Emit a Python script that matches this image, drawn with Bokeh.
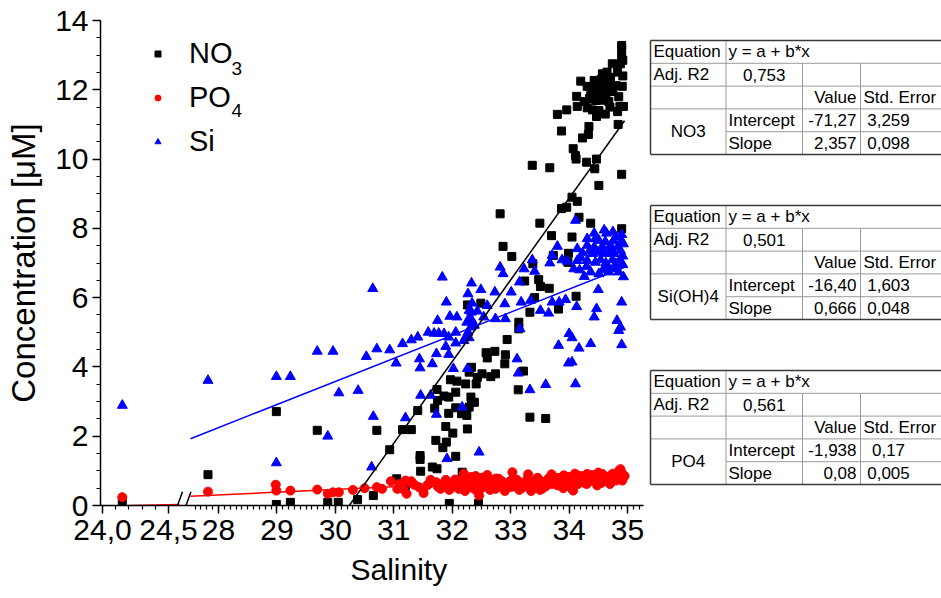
from bokeh.plotting import figure
from bokeh.models import (Range1d, FixedTicker, CustomJSTickFormatter,
                          Label, Legend, LegendItem, Title)
from bokeh.layouts import row
from bokeh.embed import file_html
from bokeh.resources import INLINE
from bokeh.core.properties import value

FONT = "Liberation Sans"

# ---------------- data ----------------
# left axis segment (24,0 - 24,5)
no3_sal_left = [24.15]
no3_conc_left = [0.09]
po4_sal_left = [24.15]
po4_conc_left = [0.24]
si_sal_left = [24.15]
si_conc_left = [2.89]

# right axis segment (27,5 - 35)
no3_sal = [27.82, 28.99, 29.69, 28.99, 29.23, 29.87, 30.05, 30.38, 31.20, 31.95, 32.45,
           32.87, 33.02, 33.38, 33.99, 33.98, 33.73, 33.24, 33.48, 33.51, 33.66, 33.41, 33.33,
           33.82, 34.12, 32.26, 32.49, 33.14, 33.14, 32.94, 32.58, 32.73, 32.60, 32.91, 32.90,
           33.22, 32.33, 32.29, 32.51, 32.43, 32.66, 32.74, 31.97, 32.08, 32.23, 32.41, 33.13,
           31.74, 32.06, 31.86, 31.94, 31.75, 32.32, 32.33, 32.29, 32.38, 32.06, 32.16, 32.25,
           31.70, 31.94, 31.41, 33.33, 33.60, 32.26, 31.89, 32.01, 31.30, 31.15, 30.71, 30.93,
           31.72, 31.90, 31.84, 31.45, 31.45, 32.06, 31.66, 31.74, 31.46, 32.17, 31.05, 30.65,
           34.90, 34.90, 34.90, 34.88, 34.74, 34.83, 34.65, 34.57, 34.71, 34.20, 34.43, 34.51,
           34.60, 34.31, 34.80, 34.91, 34.46, 34.57, 34.65, 34.74, 34.37, 34.51, 34.63, 34.13,
           34.46, 34.26, 34.68, 34.14, 34.31, 34.40, 34.51, 34.87, 34.93, 34.83, 33.96, 33.80,
           34.47, 33.87, 34.34, 34.33, 34.23, 34.84, 34.07, 34.11, 34.12, 34.47, 34.30, 33.37,
           33.67, 34.44, 34.90, 34.51, 34.05, 34.14, 33.87, 33.96, 32.82, 34.17, 33.50, 34.37,
           34.90, 33.70, 34.05,
           34.55, 34.68, 34.40, 34.75, 34.85, 34.58, 34.70, 34.35, 34.92, 34.92, 34.62]
no3_conc = [0.89, 2.71, 2.17, 0.03, 0.09, 0.09, 0.09, 0.17, 0.52, 0.06, 0.06,
            7.48, 7.19, 6.98, 7.28, 7.02, 7.22, 6.48, 6.52, 6.32, 6.27, 6.00, 5.58,
            5.67, 6.04, 5.79, 5.84, 5.29, 5.10, 4.79, 4.41, 4.45, 4.26, 4.35, 4.09,
            3.88, 3.99, 3.85, 3.80, 3.70, 3.72, 3.80, 3.63, 3.59, 3.51, 3.51, 3.34,
            3.35, 3.27, 3.16, 3.13, 3.03, 3.13, 2.98, 2.84, 2.98, 2.82, 2.65, 2.60,
            2.81, 2.66, 2.74, 2.55, 2.51, 2.21, 2.28, 2.09, 2.19, 2.19, 2.17, 1.61,
            1.88, 1.83, 1.67, 1.44, 1.33, 1.42, 1.11, 1.06, 0.99, 0.96, 0.77, 0.29,
            13.28, 13.18, 12.96, 12.75, 12.75, 12.51, 12.51, 12.46, 12.36, 12.25, 12.27, 12.17,
            12.12, 12.10, 12.12, 12.10, 12.00, 11.96, 12.03, 12.06, 11.84, 11.84, 11.84, 11.81,
            11.69, 11.66, 11.66, 11.52, 11.48, 11.42, 11.40, 11.52, 11.52, 11.37, 11.42, 11.29,
            11.23, 10.81, 10.94, 10.71, 10.61, 11.00, 10.30, 10.10, 10.00, 10.00, 9.91, 9.82,
            9.75, 9.72, 9.56, 9.24, 8.90, 8.78, 8.57, 8.61, 8.42, 8.32, 8.15, 8.15,
            7.99, 7.79, 7.75,
            12.30, 12.20, 12.05, 11.95, 11.80, 11.70, 11.50, 11.75, 12.40, 12.85, 11.30]

po4_sal = [27.82, 28.98, 28.99, 29.23, 29.69, 29.87, 29.96, 30.06,
           30.71, 30.95, 31.06, 31.22, 31.30, 31.43, 31.57, 31.63, 31.73, 31.80, 31.89, 31.96,
           32.04, 32.11, 32.19, 32.26, 32.32, 32.36, 32.46, 32.43, 32.51, 32.55, 32.64, 32.74,
           32.80, 32.90, 33.03, 32.99, 33.11, 33.20, 33.29, 33.37, 33.46, 33.54, 33.62, 33.73,
           33.80, 33.91, 33.98, 34.05, 34.14, 34.23, 34.31, 34.40, 34.48, 34.57, 34.64, 34.72,
           34.80, 34.86, 34.88, 34.84, 34.91,
           30.80, 31.17, 31.51, 34.07, 30.50, 30.30, 31.10, 31.35, 31.50, 31.60, 31.75, 31.85,
           31.95, 31.20, 32.00, 32.05, 32.10, 32.15, 32.20, 32.22, 32.28, 32.30, 32.35, 32.40,
           32.45, 32.48, 32.50, 32.55, 32.60, 32.65, 32.70, 32.75, 32.80, 32.85, 32.95, 33.00,
           33.05, 33.10, 33.15, 33.25, 33.30, 33.35, 33.40, 33.45, 33.50, 33.55, 33.60, 33.65,
           33.70, 33.75, 33.80, 33.85, 33.90, 33.95, 34.00, 34.05, 34.10, 34.15, 34.20, 34.25,
           34.30, 34.35, 34.40, 34.45, 34.50, 34.55, 34.60, 34.65, 34.70, 34.75, 34.80, 34.85,
           34.90, 34.92, 34.95, 34.88, 34.70, 34.50, 34.30, 34.10, 33.90, 33.70, 33.50, 33.30,
           32.90, 32.60, 32.40, 32.20]
po4_conc = [0.40, 0.60, 0.43, 0.43, 0.46, 0.34, 0.38, 0.38,
            0.53, 0.70, 0.48, 0.34, 0.70, 0.53, 0.58, 0.74, 0.67, 0.48, 0.74, 0.58,
            0.67, 0.48, 0.77, 0.61, 0.82, 0.51, 0.29, 0.67, 0.80, 0.55, 0.74, 0.48,
            0.77, 0.64, 0.96, 0.53, 0.74, 0.51, 0.77, 0.63, 0.80, 0.48, 0.72, 0.80,
            0.58, 0.87, 0.70, 0.48, 0.87, 0.72, 0.91, 0.77, 0.58, 0.91, 0.77, 0.87,
            0.72, 1.01, 0.82, 0.91, 0.72,
            0.48, 0.46, 0.36, 0.43, 0.50, 0.45, 0.62, 0.60, 0.45, 0.62, 0.55, 0.62,
            0.45, 0.72, 0.55, 0.75, 0.62, 0.50, 0.68, 0.42, 0.72, 0.55, 0.65, 0.45,
            0.75, 0.60, 0.50, 0.70, 0.58, 0.45, 0.68, 0.78, 0.55, 0.70, 0.60, 0.72,
            0.55, 0.62, 0.45, 0.68, 0.58, 0.42, 0.70, 0.60, 0.72, 0.65, 0.55, 0.78,
            0.62, 0.70, 0.80, 0.65, 0.75, 0.60, 0.82, 0.68, 0.76, 0.62, 0.85, 0.66,
            0.78, 0.70, 0.88, 0.72, 0.80, 0.65, 0.85, 0.70, 0.78, 0.92, 0.80, 0.88,
            0.95, 0.78, 0.85, 1.05, 0.62, 0.95, 0.62, 0.92, 0.50, 0.90, 0.45, 0.90,
            0.42, 0.88, 0.85, 0.92]

si_sal = [27.82, 28.99, 29.23, 29.69, 29.96, 30.06, 28.99, 29.87,
          30.64, 30.39, 30.53, 30.71, 30.93, 31.04, 31.15, 31.30, 31.41, 31.44, 31.45, 31.59,
          31.69, 31.77, 31.86, 31.94, 32.06, 31.75, 31.90, 31.96, 32.08, 31.89, 31.94, 31.73,
          31.66, 32.02, 32.06, 32.20, 32.23, 32.29, 32.27, 32.32, 32.25, 32.29, 32.34, 32.38,
          32.33, 32.43, 32.29, 32.34, 32.27, 32.33, 32.49, 32.60, 33.13, 33.33, 33.60, 34.11,
          33.99, 34.05, 31.46, 31.63, 31.73, 31.20, 30.65, 30.62, 31.91, 32.46, 32.17, 32.26,
          31.83,
          34.11, 34.43, 34.64, 34.90, 34.31, 34.51, 34.76, 34.90, 33.80, 34.14, 34.31, 34.43,
          34.57, 34.71, 34.83, 34.88, 34.23, 34.40, 34.48, 34.60, 34.68, 34.77, 33.71, 33.88,
          33.97, 34.14, 34.31, 34.54, 34.74, 34.87, 34.63, 34.80, 34.08, 34.18, 34.37, 34.51,
          34.68, 34.85, 34.26, 33.37, 33.41, 33.23, 33.67, 33.15, 32.82, 32.87, 34.50, 34.90,
          34.47, 34.43, 34.82, 34.88, 34.85, 34.00, 34.05, 33.82, 34.17, 34.37, 34.90, 33.83,
          33.94, 34.13, 33.71, 33.51, 33.65, 32.73, 32.90, 33.01, 33.18, 33.34, 32.91, 32.74,
          32.54, 33.16, 33.11,
          34.45, 34.62, 34.80, 34.35, 34.55, 34.72, 34.92, 34.20, 34.45, 34.66, 34.92, 34.30,
          34.58, 34.80, 34.93, 34.93, 34.60, 34.75]
si_conc = [3.61, 3.72, 3.72, 4.45, 4.45, 3.25, 1.23, 2.00,
           6.26, 3.32, 4.30, 4.52, 4.49, 4.11, 4.67, 4.78, 4.86, 4.23, 3.97, 5.00,
           4.97, 4.97, 4.96, 4.86, 5.00, 5.34, 5.87, 5.46, 5.44, 4.59, 4.36, 4.38,
           4.09, 3.95, 4.69, 4.76, 4.86, 4.84, 5.00, 5.15, 5.29, 5.39, 5.34, 5.20,
           5.58, 5.61, 5.63, 5.84, 6.11, 6.42, 6.23, 5.77, 3.82, 3.34, 3.49, 3.51,
           4.11, 4.14, 3.18, 3.18, 2.63, 2.53, 2.57, 1.11, 1.35, 1.54, 2.84, 3.95,
           6.59,
           8.23, 7.86, 7.86, 7.82, 7.70, 7.65, 7.65, 7.63, 7.48, 7.41, 7.51, 7.46,
           7.48, 7.51, 7.46, 7.36, 7.29, 7.27, 7.31, 7.27, 7.31, 7.27, 7.22, 7.09,
           7.05, 7.07, 7.07, 7.09, 7.09, 7.09, 7.00, 6.98, 6.83, 6.80, 6.74, 6.69,
           6.74, 6.74, 6.61, 7.09, 6.76, 6.83, 7.00, 6.45, 6.88, 6.69, 6.23, 5.87,
           5.68, 5.44, 5.34, 5.15, 5.05, 4.96, 4.84, 4.62, 4.54, 4.67, 4.64, 5.87,
           5.94, 5.74, 5.87, 5.63, 5.55, 6.16, 5.82, 6.16, 5.87, 5.92, 5.39, 5.39,
           5.44, 5.10, 4.23,
           7.70, 7.62, 7.75, 7.35, 7.38, 7.40, 7.20, 7.15, 7.02, 6.90, 6.95, 6.90,
           6.80, 6.86, 7.55, 6.60, 7.95, 7.90]

# tick values
x_ticks_left = [24.0, 24.5]
x_minor_left = [24.1, 24.2, 24.3, 24.4]
x_ticks_right = [28, 29, 30, 31, 32, 33, 34, 35]
y_ticks = [0, 2, 4, 6, 8, 10, 12, 14]

# linear fit tables (Origin style)
table_names = ["NO3", "Si(OH)4", "PO4"]
table_adj_r2 = ["0,753", "0,501", "0,561"]
table_intercept = ["-71,27", "-16,40", "-1,938"]
table_intercept_err = ["3,259", "1,603", "0,17"]
table_slope = ["2,357", "0,666", "0,08"]
table_slope_err = ["0,098", "0,048", "0,005"]


def num(s):
    return float(s.replace(",", "."))


# ---------------- geometry ----------------
W_MAIN, H = 648, 598
B_LEFT, B_RIGHT, B_TOP, B_BOTTOM = 100, 5, 20, 93
FRAME_W = W_MAIN - B_LEFT - B_RIGHT
R_PX0, R_PX1 = 118, 527          # frame px of 28 and 35
r_scale = (R_PX1 - R_PX0) / 7.0
L_PX0, L_PX1 = 2, 68             # frame px of 24.0 and 24.5
l_scale = (L_PX1 - L_PX0) / 0.5
x_main = Range1d(28 - R_PX0 / r_scale, 28 + (FRAME_W - R_PX0) / r_scale)
x_left = Range1d(24 - L_PX0 / l_scale, 24 + (FRAME_W - L_PX0) / l_scale)


def left_at(px):
    return 24 + (px - L_PX0) / l_scale


def main_at(px):
    return 28 + (px - R_PX0) / r_scale


def left_to_main(v):
    return x_main.start + (v - x_left.start) * (x_main.end - x_main.start) / (x_left.end - x_left.start)


BREAK_LEFT = left_at(79)
BREAK_RIGHT = main_at(90)

p = figure(width=W_MAIN, height=H, x_range=x_main, y_range=Range1d(0, 14),
           output_backend="svg", toolbar_location=None,
           min_border_left=B_LEFT, min_border_right=B_RIGHT,
           min_border_top=B_TOP, min_border_bottom=B_BOTTOM,
           x_axis_location="below", y_axis_location="left", outline_line_color=None)
p.extra_x_ranges = {"left": x_left}
p.grid.visible = False

# y axis
ya = p.yaxis[0]
ya.ticker = FixedTicker(ticks=y_ticks, minor_ticks=[i * 0.5 for i in range(29)])
ya.axis_label = "Concentration [μM]"
ya.axis_label_text_font = FONT
ya.axis_label_text_font_size = "33px"
ya.axis_label_text_font_style = "normal"
ya.axis_label_standoff = 10
ya.major_label_standoff = 4

# x axis: broken axis (24,0-24,5 // 27,5-35) on one axis line
xa = p.xaxis[0]
xa.ticker = FixedTicker(
    ticks=[left_to_main(v) for v in x_ticks_left] + x_ticks_right,
    minor_ticks=[left_to_main(v) for v in x_minor_left]
    + [round(27.6 + 0.1 * i, 1) for i in range(77)])
xa.formatter = CustomJSTickFormatter(
    args=dict(brk=main_at(84), m0=x_main.start, l0=x_left.start,
              k=(x_left.end - x_left.start) / (x_main.end - x_main.start)),
    code="""
if (tick < brk) {
  const v = l0 + (tick - m0) * k;
  return v.toFixed(1).replace('.', ',');
}
return tick.toFixed(0);
""")
xa.major_label_standoff = 6

for ax in (xa, ya):
    ax.major_label_text_font = FONT
    ax.major_label_text_font_size = "30px"
    ax.major_tick_in = 0
    ax.major_tick_out = 8
    ax.minor_tick_in = 0
    ax.minor_tick_out = 4
    ax.axis_line_width = 1.5
    ax.major_tick_line_width = 1.5
    ax.minor_tick_line_width = 1.2
    ax.axis_line_color = "black"
    ax.major_tick_line_color = "black"
    ax.minor_tick_line_color = "black"
    ax.major_label_text_color = "black"
    ax.axis_label_text_color = "black"

# x axis title, placed under the data segment
p.add_layout(Title(text="Salinity", align="left", offset=250, standoff=17,
                   text_font=FONT, text_font_size="30px", text_font_style="normal",
                   text_color="black"), "below")

# scatter points
r_no3 = p.scatter(no3_sal, no3_conc, marker="square", size=8,
                  fill_color="black", line_color="black")
p.scatter(no3_sal_left, no3_conc_left, marker="square", size=8,
          fill_color="black", line_color="black", x_range_name="left")
r_po4 = p.scatter(po4_sal, po4_conc, marker="circle", size=9,
                  fill_color="red", line_color="red")
p.scatter(po4_sal_left, po4_conc_left, marker="circle", size=9,
          fill_color="red", line_color="red", x_range_name="left")
r_si = p.scatter(si_sal, si_conc, marker="triangle", size=10,
                 fill_color="blue", line_color="blue")
p.scatter(si_sal_left, si_conc_left, marker="triangle", size=10,
          fill_color="blue", line_color="blue", x_range_name="left")

# fit lines from table coefficients, over the data range, cut at the break
x_min = min(no3_sal_left + po4_sal_left + si_sal_left)
x_max = max(no3_sal + po4_sal + si_sal)
for idx, col in ((0, "black"), (1, "blue"), (2, "red")):
    a, b = num(table_intercept[idx]), num(table_slope[idx])
    xl = [x_min, BREAK_LEFT]
    xr = [BREAK_RIGHT, x_max]
    p.line(xl, [a + b * v for v in xl], line_color=col, line_width=1.5, x_range_name="left")
    p.line(xr, [a + b * v for v in xr], line_color=col, line_width=1.5)

# axis break mark "//"
p.segment(x0=[left_at(77), left_at(85.5)], y0=[0, 0],
          x1=[left_at(82), left_at(90.5)], y1=[0.4, 0.4],
          line_color="black", line_width=1.5, x_range_name="left")

# legend
legend = Legend(items=[LegendItem(label="NO", renderers=[r_no3]),
                       LegendItem(label="PO", renderers=[r_po4]),
                       LegendItem(label="Si", renderers=[r_si])],
                location=(50, 347), glyph_width=15, glyph_height=15,
                label_standoff=24, spacing=11, padding=0, margin=0,
                border_line_color=None, background_fill_alpha=0,
                label_text_font=FONT, label_text_font_size="29px",
                label_text_color="black")
p.add_layout(legend)
for txt, yy in (("3", 437), ("4", 395)):
    p.add_layout(Label(x=131, y=yy, x_units="screen", y_units="screen", text=txt,
                       text_font=FONT, text_font_size="19px", text_color="black",
                       text_baseline="alphabetic"))

# ---------------- tables ----------------
# table canvas uses the same borders as the plot, with data units = page pixels
W_T = 941 - W_MAIN
t = figure(width=W_T, height=H, x_range=Range1d(W_MAIN, W_MAIN + W_T),
           y_range=Range1d(H - B_BOTTOM, B_TOP),
           output_backend="svg", toolbar_location=None,
           min_border_left=0, min_border_right=0,
           min_border_top=B_TOP, min_border_bottom=B_BOTTOM,
           x_axis_location=None, y_axis_location=None, outline_line_color=None)
t.grid.visible = False

tops = [40, 205, 370]
RH = 22.8
C0, C1, C2, C3, CR = 650, 725.5, 802, 860, 960
for k, T in enumerate(tops):
    rows = [T + i * RH for i in range(6)]
    # inner grid
    t.segment(x0=[C0, C0, C0, C1, C1, C2, C3],
              y0=[rows[1], rows[2], rows[3], rows[4], T, rows[1], rows[1]],
              x1=[CR, CR, CR, CR, C1, C2, C3],
              y1=[rows[1], rows[2], rows[3], rows[4], rows[5], rows[5], rows[5]],
              line_color="#9a9a9a", line_width=1)
    # outer border
    t.segment(x0=[C0, C0, C0], y0=[T, rows[5], T], x1=[CR, CR, C0], y1=[T, rows[5], rows[5]],
              line_color="#3a3a3a", line_width=1.5)
    mid = [r + RH / 2 for r in rows[:5]]
    t.text([C0 + 3, C1 + 2.5, C0 + 3, C1 + 2.5, C1 + 2.5, C3 + 3],
           [mid[0], mid[0], mid[1], mid[3], mid[4], mid[2]],
           text=["Equation", "y = a + b*x", "Adj. R2", "Intercept", "Slope", "Std. Error"],
           text_font=value(FONT), text_font_size="17px",
           text_align="left", text_baseline="middle", text_color="black")
    t.text([C3 - 4, C3 - 4, C3 - 4], [mid[2], mid[3], mid[4]],
           text=["Value", table_intercept[k], table_slope[k]],
           text_font=value(FONT), text_font_size="17px",
           text_align="right", text_baseline="middle", text_color="black")
    t.text([(C1 + C2) / 2, 888, 888, (C0 + C1) / 2],
           [mid[1], mid[3], mid[4], rows[4]],
           text=[table_adj_r2[k], table_intercept_err[k], table_slope_err[k], table_names[k]],
           text_font=value(FONT), text_font_size="17px",
           text_align="center", text_baseline="middle", text_color="black")

layout = row(p, t)
open("out.html", "w").write(file_html(layout, INLINE, title="Salinity vs nutrients"))
